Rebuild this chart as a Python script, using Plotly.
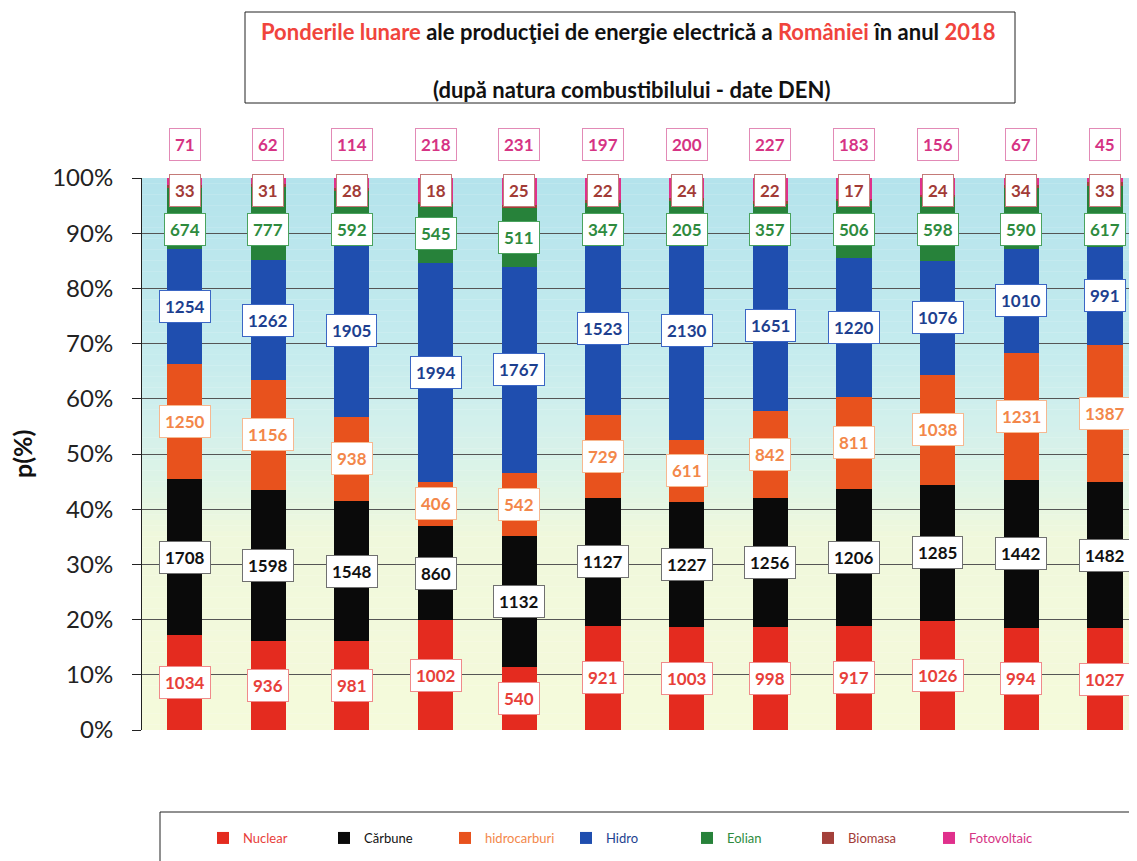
import plotly.graph_objects as go

# ---------------- data ----------------
months = ["Ian", "Feb", "Mar", "Apr", "Mai", "Iun", "Iul", "Aug", "Sep", "Oct", "Noi", "Dec"]
series_names = ["Nuclear", "Cărbune", "hidrocarburi", "Hidro", "Eolian", "Biomasa", "Fotovoltaic"]
nuclear = [1034, 936, 981, 1002, 540, 921, 1003, 998, 917, 1026, 994, 1027]
carbune = [1708, 1598, 1548, 860, 1132, 1127, 1227, 1256, 1206, 1285, 1442, 1482]
hidrocarburi = [1250, 1156, 938, 406, 542, 729, 611, 842, 811, 1038, 1231, 1387]
hidro = [1254, 1262, 1905, 1994, 1767, 1523, 2130, 1651, 1220, 1076, 1010, 991]
eolian = [674, 777, 592, 545, 511, 347, 205, 357, 506, 598, 590, 617]
biomasa = [33, 31, 28, 18, 25, 22, 24, 22, 17, 24, 34, 33]
fotovoltaic = [71, 62, 114, 218, 231, 197, 200, 227, 183, 156, 67, 45]
y_ticks = [0, 10, 20, 30, 40, 50, 60, 70, 80, 90, 100]
y_tick_labels = [f"{v}%" for v in y_ticks]

series_values = [nuclear, carbune, hidrocarburi, hidro, eolian, biomasa, fotovoltaic]

# ---------------- styles ----------------
bar_colors = ["#e42b1f", "#0a0a0a", "#e8521d", "#1f4eaf", "#27823a", "#a3403a", "#e0308c"]
label_colors = ["#e8403a", "#111111", "#f3874a", "#1d3f8f", "#2e8b3e", "#a23b36", "#d63384"]
label_borders = ["#f08a8a", "#707070", "#f7b890", "#3b66c4", "#4aa35e", "#c47a78", "#e28ab6"]
FONT = "Lato"

# page geometry (pixels); the page body adds an 8px offset
OFF = 8
W, H = 1137 - OFF, 861 - OFF
L, R, T, B = 142 - OFF, W, 178 - OFF, 730 - OFF


def pxx(x):
    return (x - OFF - L) / (R - L)


def pxy(y):
    return (B - (y - OFF)) / (B - T)


fig = go.Figure()

for name, vals, col, lcol in zip(series_names, series_values, bar_colors, label_colors):
    fig.add_trace(go.Bar(
        x=months, y=vals, name=f"<span style='color:{lcol}'>{name}</span>",
        marker=dict(color=col, line=dict(width=0)), width=0.42,
        hoverinfo="skip",
    ))

# percentages for label placement
totals = [sum(s[i] for s in series_values) for i in range(len(months))]
annotations = []
for i, m in enumerate(months):
    cum = 0.0
    for k, vals in enumerate(series_values):
        p = vals[i] / totals[i] * 100
        center = cum + p / 2
        cum += p
        yref = "y"
        if k == 4:
            ypos = min(center, 90.6)
        elif k == 5:
            ypos = 97.8
        elif k == 6:
            ypos = 1.06
            yref = "paper"
        else:
            ypos = center
        annotations.append(dict(
            x=m, y=ypos, xref="x", yref=yref, text=f"<b>{vals[i]}</b>", showarrow=False,
            xanchor="center", yanchor="middle",
            font=dict(family=FONT, size=17, color=label_colors[k]),
            bgcolor="white", bordercolor=label_borders[k], borderwidth=1, borderpad=5,
        ))

# title
annotations.append(dict(
    x=pxx(628), y=pxy(31), xref="paper", yref="paper", showarrow=False,
    xanchor="center", yanchor="middle",
    text=("<b><span style='color:#f0443c'>Ponderile lunare</span> ale producţiei de energie electrică a "
          "<span style='color:#f0443c'>României</span> în anul <span style='color:#f0443c'>2018</span></b>"),
    font=dict(family=FONT, size=22, color="#111111"),
))
annotations.append(dict(
    x=pxx(631), y=pxy(89), xref="paper", yref="paper", showarrow=False,
    xanchor="center", yanchor="middle",
    text="<b>(după natura combustibilului - date DEN)</b>",
    font=dict(family=FONT, size=22, color="#111111"),
))
# y-axis title
annotations.append(dict(
    x=pxx(22), y=pxy(454), xref="paper", yref="paper", showarrow=False, textangle=-90,
    xanchor="center", yanchor="middle",
    text="<b>p(%)</b>", font=dict(family=FONT, size=25, color="#111111"),
))

shapes = []
# background gradient of the plot area
stops = [(0, (245, 250, 219)), (35, (240, 248, 220)), (45, (222, 244, 230)),
         (55, (211, 240, 236)), (70, (196, 235, 238)), (100, (180, 227, 236))]


def color_at(v):
    for (a, ca), (b, cb) in zip(stops[:-1], stops[1:]):
        if a <= v <= b:
            t = (v - a) / (b - a)
            return "rgb(%d,%d,%d)" % tuple(round(ca[j] + (cb[j] - ca[j]) * t) for j in range(3))
    return "rgb(%d,%d,%d)" % stops[-1][1]


nb = 100
for j in range(nb):
    y0 = j * 100 / nb
    y1 = (j + 1) * 100 / nb
    shapes.append(dict(type="rect", xref="x domain", yref="y", x0=0, x1=1, y0=y0, y1=y1 + 0.05,
                       fillcolor=color_at((y0 + y1) / 2), line=dict(width=0), layer="below"))

# title box
shapes.append(dict(type="rect", xref="paper", yref="paper", x0=pxx(245), x1=pxx(1015),
                   y0=pxy(103), y1=pxy(12), line=dict(color="#222222", width=1), fillcolor="rgba(0,0,0,0)"))
# legend box
shapes.append(dict(type="rect", xref="paper", yref="paper", x0=pxx(160), x1=pxx(1133),
                   y0=pxy(870), y1=pxy(812), line=dict(color="#222222", width=1), fillcolor="rgba(0,0,0,0)"))

fig.update_layout(
    width=W, height=H,
    margin=dict(l=L, r=W - R, t=T, b=H - B, autoexpand=False),
    barmode="stack", barnorm="percent",
    paper_bgcolor="white", plot_bgcolor="rgba(0,0,0,0)",
    font=dict(family=FONT, color="#111111"),
    showlegend=True,
    legend=dict(orientation="h", x=pxx(203), y=pxy(838), xanchor="left", yanchor="middle",
                font=dict(family=FONT, size=13), entrywidth=76, entrywidthmode="pixels",
                itemwidth=30, traceorder="normal", bgcolor="rgba(0,0,0,0)"),
    annotations=annotations,
    shapes=shapes,
    xaxis=dict(range=[-0.508, 11.382], showticklabels=False, showgrid=False, showline=False,
               zeroline=False, ticks="", fixedrange=True),
    yaxis=dict(range=[0, 100], tickvals=y_ticks, ticktext=y_tick_labels, showgrid=True,
               gridcolor="#555555", gridwidth=1, zeroline=False, showline=True, linecolor="#222222",
               linewidth=1, ticks="outside", ticklen=9, tickcolor="#222222",
               tickfont=dict(family=FONT, size=24, color="#222222"), ticklabelstandoff=14),
)

fig.write_html("out.html")
